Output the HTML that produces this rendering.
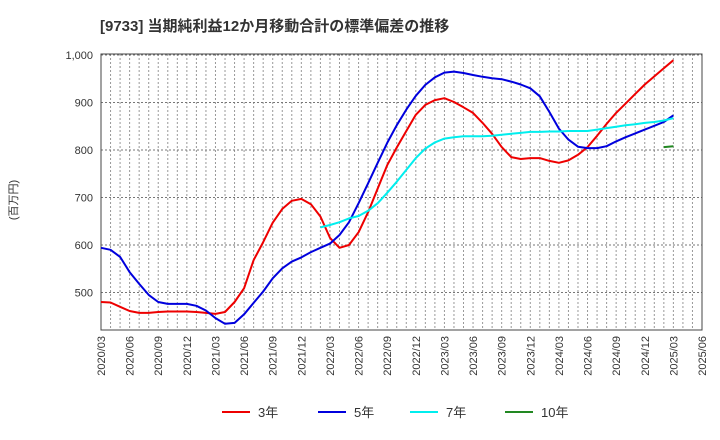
<!DOCTYPE html>
<html><head><meta charset="utf-8"><style>
html,body{margin:0;padding:0;background:#fff;width:720px;height:440px;overflow:hidden}
text{font-family:"Liberation Sans","Noto Sans CJK JP",sans-serif}
</style></head><body>
<svg id="chart" width="720" height="440" xmlns="http://www.w3.org/2000/svg">
<text x="100" y="31" font-size="15" font-weight="bold" fill="#333">[9733]  当期純利益12か月移動合計の標準偏差の推移</text>
<text transform="translate(17,200) rotate(-90)" text-anchor="middle" font-size="11" fill="#333">(百万円)</text>
<g id="grid"></g>
<g id="axes"></g>
<g id="series"></g>
<g id="legend"></g>
</svg>
<script>
const xTickLabels=["2020/03","2020/06","2020/09","2020/12","2021/03","2021/06","2021/09","2021/12","2022/03","2022/06","2022/09","2022/12","2023/03","2023/06","2023/09","2023/12","2024/03","2024/06","2024/09","2024/12","2025/03","2025/06"];
const yTicks=[500,600,700,800,900,1000];
const yTickLabels=["500","600","700","800","900","1,000"];
const s3=[480,479,470,461,457,457,459,460,460,460,459,457,455,459,480,509,568,606,647,676,693,697,686,660,615,594,600,627,669,719,768,805,840,874,895,905,909,901,890,878,857,834,806,785,781,783,783,777,773,778,790,806,830,855,878,898,918,938,955,972,989];
const s5=[594,590,575,543,518,495,480,476,476,476,472,462,446,434,436,454,478,502,530,551,565,574,585,594,603,621,648,688,730,773,815,852,885,914,937,953,963,965,962,958,954,951,949,944,938,930,913,880,845,822,807,804,804,808,818,827,835,843,851,859,873];
const s7=[null,null,null,null,null,null,null,null,null,null,null,null,null,null,null,null,null,null,null,null,null,null,null,637,642,648,656,661,672,688,710,733,758,783,803,816,824,827,829,829,829,830,832,834,836,838,838,839,839,840,840,840,843,846,849,852,854,857,859,862,867];
const s10=[];for(let i=0;i<59;i++)s10.push(null);s10.push(806,808);
const L=101,R=702,T=54,B=330;
const nMonths=63;
const xs=i=>L+(R-L)*i/nMonths;
const ys=v=>55+(1000-v)*0.475;
const NS="http://www.w3.org/2000/svg";
function mk(tag,attrs,parent){const e=document.createElementNS(NS,tag);for(const k in attrs)e.setAttribute(k,attrs[k]);parent.appendChild(e);return e;}
const grid=document.getElementById('grid'),axes=document.getElementById('axes'),series=document.getElementById('series'),legend=document.getElementById('legend');
for(let m=1;m<nMonths;m++){
 const l=mk('line',{x1:xs(m),x2:xs(m),y1:T,y2:B,stroke:'#999','stroke-dasharray':'2,2','stroke-width':1},grid);
 
 
}
yTicks.forEach((v,i)=>{
 const l=mk('line',{x1:L,x2:R,y1:ys(v),y2:ys(v),stroke:'#777','stroke-dasharray':'2,2','stroke-width':1},grid);
 
 
 const t=mk('text',{x:93,y:ys(v)+4,'text-anchor':'end','font-size':11,fill:'#333'},axes);
 t.textContent=yTickLabels[i];
 
 
});
const frame=mk('rect',{x:L,y:T,width:R-L,height:B-T,fill:'none',stroke:'#444','stroke-width':1},axes);


xTickLabels.forEach((lab,i)=>{
 const x=xs(i*3);
 const t=mk('text',{transform:`translate(${x+4},336) rotate(-90)`,'text-anchor':'end','font-size':11,fill:'#333'},axes);
 t.textContent=lab;
 
 
});
function drawLine(data,color,name){
 let d='',pen=false;
 data.forEach((v,i)=>{if(v==null){pen=false;return;}d+=(pen?'L':'M')+xs(i).toFixed(1)+','+ys(v).toFixed(1);pen=true;});
 const p=mk('path',{d:d,fill:'none',stroke:color,'stroke-width':2,'stroke-linejoin':'round'},series);
 
 
}
drawLine(s3,'#ee0000','line-3y');
drawLine(s5,'#0000dd','line-5y');
drawLine(s7,'#00eeee','line-7y');
drawLine(s10,'#228822','line-10y');
const leg=[['3年','#ee0000',222],['5年','#0000dd',318],['7年','#00eeee',410],['10年','#228822',505]];
leg.forEach(([lab,c,x])=>{
 const g=mk('g',{},legend);
 
 
 mk('line',{x1:x,x2:x+28,y1:412,y2:412,stroke:c,'stroke-width':2},g);
 const t=mk('text',{x:x+36,y:417,'font-size':13,fill:'#333'},g);
 t.textContent=lab;
});
</script>
</body></html>
